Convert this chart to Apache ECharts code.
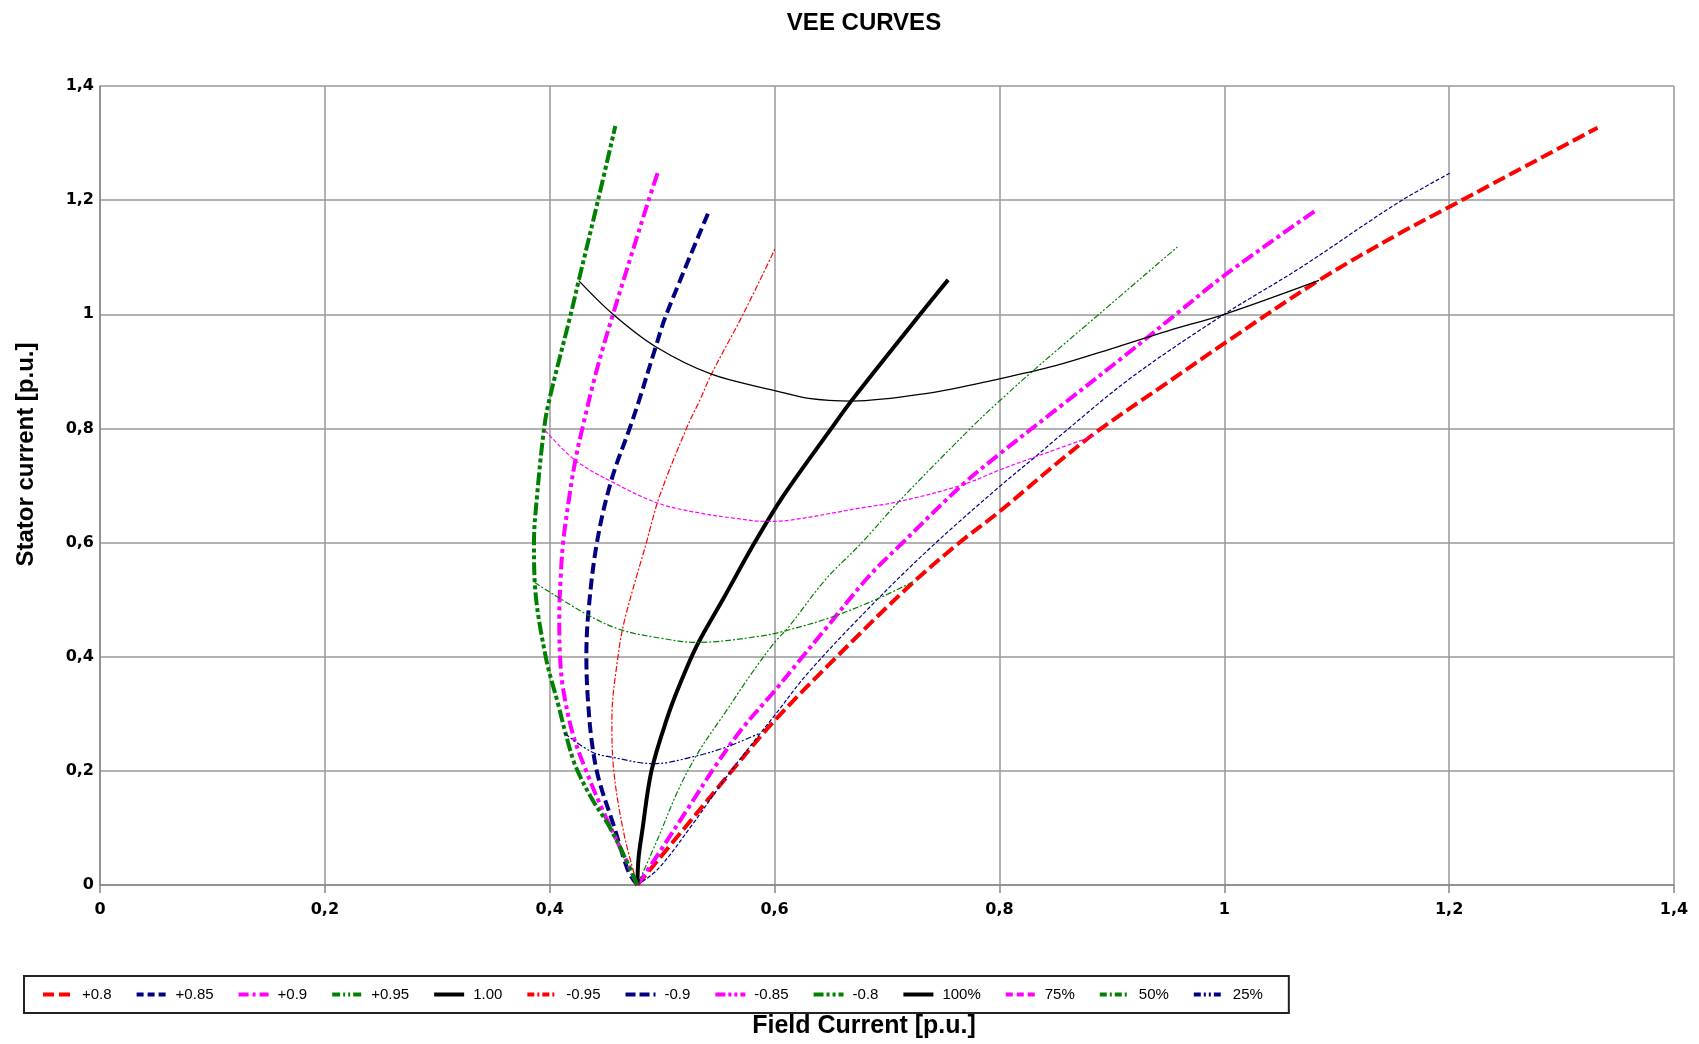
<!DOCTYPE html>
<html>
<head>
<meta charset="utf-8">
<script src="https://cdn.jsdelivr.net/npm/echarts@6/dist/echarts.min.js"></script>
<style>
html,body{margin:0;padding:0;background:#fff;}
#chart{width:1699px;height:1044px;}
</style>
</head>
<body>
<div id="chart"></div>
<script>
// ---- data (x = field current p.u., y = stator current p.u.) ----
const seriesNames = ['+0.8','+0.85','+0.9','+0.95','1.00','-0.95','-0.9','-0.85','-0.8','100%','75%','50%','25%'];
const axisTicks = [0, 0.2, 0.4, 0.6, 0.8, 1, 1.2, 1.4];

const pfLag080 = [[0.478,0],[0.52,0.1],[0.562,0.2],[0.6,0.288],[0.6554,0.4],[0.7193,0.523],[0.7638,0.5988],[0.8,0.6542],[0.8528,0.7417],[0.8885,0.797],[0.9478,0.878],[1.0,0.949],[1.0842,1.0595],[1.1553,1.1411],[1.2,1.188],[1.332,1.327]];
const pfLag085 = [[0.478,0],[0.4968,0.029],[0.5265,0.1049],[0.5561,0.1864],[0.5858,0.262],[0.6,0.297],[0.6302,0.3726],[0.6896,0.4968],[0.743,0.5988],[0.8,0.698],[0.832,0.7504],[0.8528,0.7854],[0.9182,0.8904],[1.0,1.0],[1.0664,1.0799],[1.1553,1.1965],[1.2014,1.248]];
const pfLag090 = [[0.478,0],[0.4968,0.055],[0.5265,0.145],[0.5472,0.208],[0.571,0.2737],[0.6,0.34],[0.622,0.393],[0.645,0.448],[0.6837,0.5405],[0.7134,0.5988],[0.7668,0.7009],[0.8,0.755],[0.855,0.84],[0.91,0.925],[0.957,1.0],[1.0,1.068],[1.0812,1.1819]];
const pfLag095 = [[0.478,0],[0.497,0.085],[0.514,0.165],[0.532,0.232],[0.556,0.302],[0.58,0.372],[0.6,0.425],[0.6125,0.452],[0.6451,0.5347],[0.6777,0.6],[0.7104,0.6717],[0.7757,0.8029],[0.8,0.848],[0.8278,0.8974],[0.8885,1.0],[0.9582,1.1178]];
const pfUnity = [[0.478,0],[0.479,0.047],[0.4822,0.0933],[0.4905,0.2],[0.5042,0.291],[0.5152,0.349],[0.531,0.42],[0.5545,0.502],[0.5823,0.6],[0.6075,0.681],[0.6505,0.8],[0.669,0.85],[0.7295,1.0],[0.7543,1.0603]];
const pfLead095 = [[0.478,0],[0.466,0.09],[0.4568,0.2038],[0.4553,0.291],[0.4607,0.4],[0.4668,0.4658],[0.486,0.6],[0.4975,0.68],[0.5216,0.8],[0.5334,0.849],[0.5438,0.895],[0.572,1.0],[0.601,1.117]];
const pfLead090 = [[0.478,0],[0.4701,0.0234],[0.4568,0.105],[0.4435,0.1864],[0.4375,0.25],[0.4338,0.33],[0.4326,0.4],[0.4345,0.48],[0.442,0.6],[0.4548,0.709],[0.4711,0.8],[0.4795,0.849],[0.4943,0.943],[0.5038,1.0],[0.5417,1.181]];
const pfLead085 = [[0.478,0],[0.4672,0.0467],[0.4464,0.134],[0.4316,0.204],[0.4205,0.265],[0.4118,0.345],[0.4092,0.4],[0.4085,0.47],[0.4098,0.54],[0.4119,0.6],[0.4175,0.681],[0.4228,0.744],[0.429,0.8],[0.4415,0.9],[0.4563,1.0],[0.488,1.2],[0.4964,1.25]];
const pfLead080 = [[0.478,0],[0.4672,0.0467],[0.4523,0.105],[0.4375,0.151],[0.4227,0.2097],[0.4138,0.268],[0.4079,0.314],[0.3964,0.4],[0.3867,0.53],[0.386,0.6],[0.3887,0.681],[0.395,0.8],[0.3995,0.849],[0.4187,1.0],[0.4258,1.059],[0.443,1.2],[0.4584,1.33]];
const load100 = [[0.4258,1.059],[0.4563,1.0],[0.4943,0.943],[0.5438,0.895],[0.601,0.866],[0.6303,0.8525],[0.6688,0.848],[0.7341,0.861],[0.8,0.887],[0.85,0.91],[0.9,0.94],[0.95,0.971],[1.0,1.0],[1.0842,1.0595]];
const load75 = [[0.3961,0.796],[0.4228,0.744],[0.4548,0.707],[0.4963,0.669],[0.5338,0.6516],[0.5632,0.643],[0.5932,0.637],[0.6154,0.6397],[0.6748,0.66],[0.7104,0.6717],[0.7668,0.7009],[0.8,0.7271],[0.832,0.7504],[0.8528,0.765],[0.8856,0.7883]];
const load50 = [[0.3867,0.53],[0.434,0.473],[0.4637,0.447],[0.5,0.432],[0.5309,0.425],[0.5858,0.4356],[0.6095,0.4454],[0.6481,0.4676],[0.6896,0.4997],[0.7237,0.5318]];
const load25 = [[0.413,0.266],[0.4375,0.233],[0.4553,0.224],[0.4924,0.2126],[0.5324,0.227],[0.5531,0.239],[0.568,0.25],[0.5858,0.265]];

const seriesData = [pfLag080,pfLag085,pfLag090,pfLag095,pfUnity,pfLead095,pfLead090,pfLead085,pfLead080,load100,load75,load50,load25];

// ---- styles ----
const RED='#ff0000', NAVY='#000080', MAG='#ff00ff', GRN='#008000', BLK='#000000';
const styles = [
  {color:RED,  width:4,   type:[13,5]},
  {color:NAVY, width:1.2, type:[4,2]},
  {color:MAG,  width:4,   type:[13,4,4,4]},
  {color:GRN,  width:1.2, type:[6,2,2,2,2,2]},
  {color:BLK,  width:4,   type:'solid'},
  {color:RED,  width:1.2, type:[6,2,2,2]},
  {color:NAVY, width:4,   type:[11,5]},
  {color:MAG,  width:4,   type:[13,4,4,4,4,4]},
  {color:GRN,  width:4,   type:[13,3,4,3,4,3]},
  {color:BLK,  width:1.3, type:'solid'},
  {color:MAG,  width:1.2, type:[4,2]},
  {color:GRN,  width:1.2, type:[6,2,2,2]},
  {color:NAVY, width:1.2, type:[6,2,2,2,2,2]}
];
// legend icon dash patterns (legend icons are drawn thick)
const legendDash = [[11,5],[7,4],[10,4,3,4],[8,3,2,3,2,3],'solid',[7,3,2,3],[10,4],[10,3,3,3,3,3],[10,3,3,3,3,3],'solid',[7,4],[7,3,2,3],[7,3,2,3,2,3]];

const chart = echarts.init(document.getElementById('chart'), null, {renderer:'canvas'});
const fmt = v => String(Math.round(v*10)/10).replace('.', ',');
const tickFont = {fontFamily:'DejaVu Sans', fontWeight:'bold', fontSize:16, color:'#000'};
const gridLine = {color:'#999', width:1.5};
const titleFont = 'Liberation Sans, Arial, sans-serif';

chart.setOption({
  animation:false,
  backgroundColor:'#fff',
  title:{
    text:'VEE CURVES', left:859, top:6, textAlign:'center',
    textStyle:{fontFamily:titleFont, fontWeight:'bold', fontSize:24, color:'#000'}
  },
  grid:{left:100, right:25, top:86, bottom:157, containLabel:false},
  xAxis:{
    type:'value', min:axisTicks[0], max:axisTicks[axisTicks.length-1], interval:0.2,
    name:'Field Current [p.u.]', nameLocation:'middle', nameGap:129,
    nameTextStyle:{fontFamily:titleFont, fontWeight:'bold', fontSize:25, color:'#000', padding:[0,46,0,0]},
    axisLine:{show:true, lineStyle:{color:'#888', width:1.5}},
    axisTick:{show:true, length:8, lineStyle:{color:'#888', width:1.5}},
    axisLabel:Object.assign({margin:17, formatter:fmt}, tickFont),
    splitLine:{show:true, lineStyle:gridLine}
  },
  yAxis:{
    type:'value', min:axisTicks[0], max:axisTicks[axisTicks.length-1], interval:0.2,
    name:'Stator current [p.u.]', nameLocation:'middle', nameGap:62, nameRotate:90,
    nameTextStyle:{fontFamily:titleFont, fontWeight:'bold', fontSize:24, color:'#000', padding:[0,0,0,62]},
    axisLine:{show:true, lineStyle:{color:'#888', width:1.5}},
    axisTick:{show:false},
    axisLabel:Object.assign({margin:6, formatter:fmt}, tickFont),
    splitLine:{show:true, lineStyle:gridLine}
  },
  legend:{
    left:24, top:976, orient:'horizontal',
    padding:[11,26,11,17],
    borderColor:'#222', borderWidth:2,
    itemWidth:30, itemHeight:12, itemGap:23,
    itemStyle:{opacity:0},
    textStyle:{fontFamily:titleFont, fontSize:15, color:'#000', padding:[0,0,0,4]},
    data:seriesNames.map((n,i) => ({
      name:n,
      itemStyle:{opacity:0},
      lineStyle:{width:4, type:legendDash[i], color:styles[i].color, cap:'butt'}
    }))
  },
  series:seriesData.map((d,i) => ({
    name:seriesNames[i], type:'line', data:d, showSymbol:false, symbol:'none',
    smooth:0.35, lineStyle:styles[i], itemStyle:{color:styles[i].color},
    emphasis:{disabled:true}, z:2
  }))
});
</script>
</body>
</html>
